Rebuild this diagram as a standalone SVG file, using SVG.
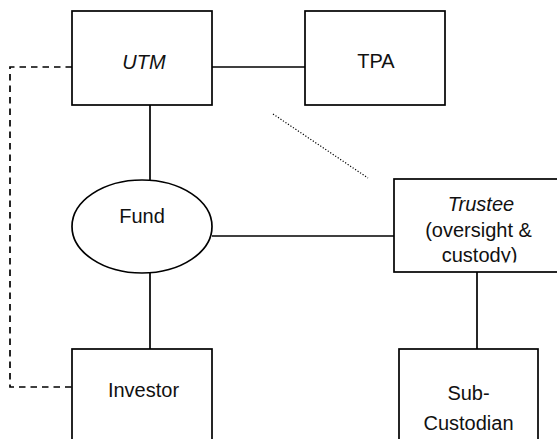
<svg xmlns="http://www.w3.org/2000/svg" width="557" height="439" viewBox="0 0 557 439">
  <style>
    .box { fill: #ffffff; stroke: #000000; stroke-width: 1.7; }
    .link { fill: none; stroke: #000000; stroke-width: 1.7; }
    .dash { fill: none; stroke: #000000; stroke-width: 1.7; stroke-dasharray: 6.5 5; }
    .dot { fill: none; stroke: #000000; stroke-width: 1.2; stroke-dasharray: 1.2 1.8; }
    .label { font-family: "Liberation Sans", Arial, sans-serif; font-size: 20px; fill: #111111; text-anchor: middle; }
    .it { font-style: italic; }
  </style>
  <defs>
    <clipPath id="trustee-text-clip">
      <rect x="395" y="180" width="170" height="82.5"/>
    </clipPath>
  </defs>
  <rect width="557" height="439" fill="#ffffff"/>

  <g id="connectors">
    <line class="link" x1="212" y1="67" x2="305" y2="67"/>
    <line class="link" x1="150" y1="105" x2="150" y2="180"/>
    <line class="link" x1="150" y1="273" x2="150" y2="349"/>
    <line class="link" x1="212" y1="236" x2="398" y2="236"/>
    <line class="link" x1="477" y1="272" x2="477" y2="349"/>
    <polyline class="dash" points="72,67 10,67 10,387 72,387"/>
    <line class="dot" x1="273" y1="114" x2="368" y2="178"/>
  </g>

  <g id="utm">
    <rect class="box" x="72" y="11" width="140" height="94"/>
    <text class="label it" x="144" y="68.5">UTM</text>
  </g>

  <g id="tpa">
    <rect class="box" x="305" y="11" width="140" height="94"/>
    <text class="label" x="376" y="67.5">TPA</text>
  </g>

  <g id="fund">
    <ellipse class="box" cx="142" cy="226.5" rx="70" ry="46.5"/>
    <text class="label" x="142" y="223">Fund</text>
  </g>

  <g id="trustee">
    <rect class="box" x="394" y="179" width="170" height="93"/>
    <g clip-path="url(#trustee-text-clip)">
      <text class="label it" x="481" y="211">Trustee</text>
      <text class="label" x="478.5" y="236.5">(oversight &amp;</text>
      <text class="label" x="479.5" y="261.5">custody)</text>
    </g>
  </g>

  <g id="investor">
    <rect class="box" x="72" y="349" width="140" height="100"/>
    <text class="label" x="143.5" y="396.5">Investor</text>
  </g>

  <g id="sub-custodian">
    <rect class="box" x="399" y="349" width="139" height="100"/>
    <text class="label" x="468.5" y="400">Sub-</text>
    <text class="label" x="468.5" y="430">Custodian</text>
  </g>
</svg>
